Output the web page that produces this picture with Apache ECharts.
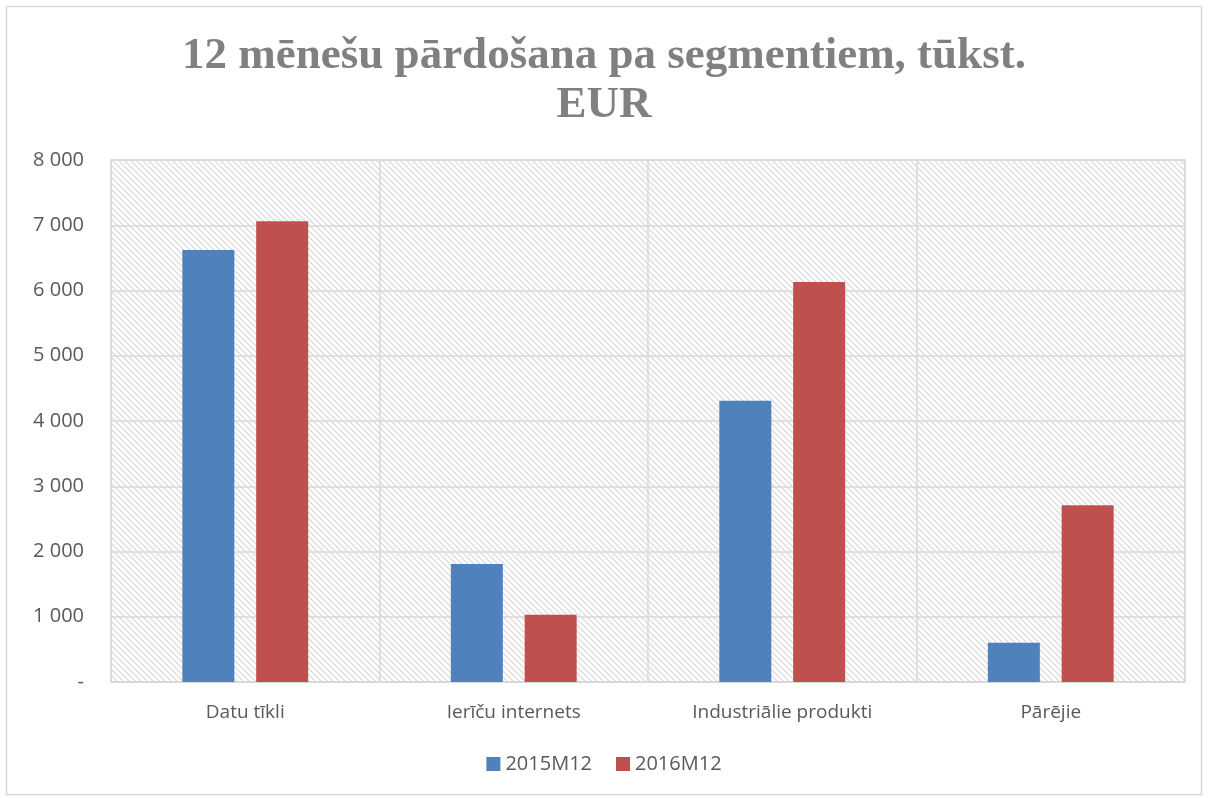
<!DOCTYPE html>
<html>
<head>
<meta charset="utf-8">
<script src="https://cdn.jsdelivr.net/npm/echarts@6/dist/echarts.min.js"></script>
<style>
  html, body { margin: 0; padding: 0; background: #fff; }
  #chart { width: 1208px; height: 798px; }
</style>
</head>
<body>
<div id="chart"></div>
<script>
"use strict";
var categories = ['Datu tīkli', 'Ierīču internets', 'Industriālie produkti', 'Pārējie'];
var seriesNames = ['2015M12', '2016M12'];
var values2015 = [6620, 1810, 4310, 600];
var values2016 = [7060, 1030, 6130, 2710];

// diagonal hatch for the plot background
function makeHatch() {
    var c = document.createElement('canvas');
    c.width = 6;
    c.height = 6;
    var ctx = c.getContext('2d');
    ctx.fillStyle = '#ffffff';
    ctx.fillRect(0, 0, 6, 6);
    ctx.strokeStyle = '#dcdcdc';
    ctx.lineWidth = 1.3;
    ctx.beginPath();
    ctx.moveTo(-1, -1); ctx.lineTo(7, 7);
    ctx.moveTo(-4, 2); ctx.lineTo(4, 10);
    ctx.moveTo(2, -4); ctx.lineTo(10, 4);
    ctx.stroke();
    return c;
}

var myChart = echarts.init(document.getElementById('chart'));

function fmt(v) {
    if (v === 0) return '-';
    return String(v).replace(/\B(?=(\d{3})+(?!\d))/g, ' ');
}

var option = {
    backgroundColor: '#ffffff',
    title: {
        text: '12 mēnešu pārdošana pa segmentiem, tūkst.\nEUR',
        left: 'center',
        top: 27,
        textStyle: {
            fontFamily: 'Liberation Serif',
            fontWeight: 'bold',
            fontSize: 45,
            lineHeight: 49,
            color: '#808080'
        }
    },
    graphic: [{
        type: 'rect',
        shape: {x: 6.5, y: 6.5, width: 1195, height: 788},
        style: {fill: 'none', stroke: '#d9d9d9', lineWidth: 1.5},
        silent: true
    }],
    legend: {
        data: seriesNames,
        bottom: 19,
        left: 'center',
        itemWidth: 14,
        itemHeight: 14,
        itemGap: 24,
        icon: 'rect',
        textStyle: {fontFamily: 'Open Sans', fontSize: 20, color: '#595959'}
    },
    grid: {
        left: 111, right: 23, top: 160, bottom: 116,
        show: true,
        backgroundColor: {image: makeHatch(), repeat: 'repeat'},
        borderColor: '#d9d9d9',
        borderWidth: 1.5
    },
    xAxis: {
        type: 'category',
        data: categories,
        axisLine: {lineStyle: {color: '#d9d9d9', width: 1.5}},
        axisTick: {show: false},
        splitLine: {show: true, interval: 0, lineStyle: {color: '#d9d9d9', width: 1.5}},
        axisLabel: {fontFamily: 'Open Sans', fontSize: 19, color: '#595959', margin: 21}
    },
    yAxis: {
        type: 'value',
        min: 0, max: 8000, interval: 1000,
        axisLine: {show: false},
        axisTick: {show: false},
        splitLine: {lineStyle: {color: '#d9d9d9', width: 1.5}},
        axisLabel: {fontFamily: 'Open Sans', fontSize: 20, color: '#595959', margin: 27, formatter: fmt}
    },
    series: [{
        name: seriesNames[0],
        type: 'bar',
        data: values2015,
        barWidth: 52,
        barGap: '42%',
        itemStyle: {color: '#4f81bd'}
    }, {
        name: seriesNames[1],
        type: 'bar',
        data: values2016,
        barWidth: 52,
        itemStyle: {color: '#c0504d'}
    }]
};
myChart.setOption(option);
</script>
</body>
</html>
